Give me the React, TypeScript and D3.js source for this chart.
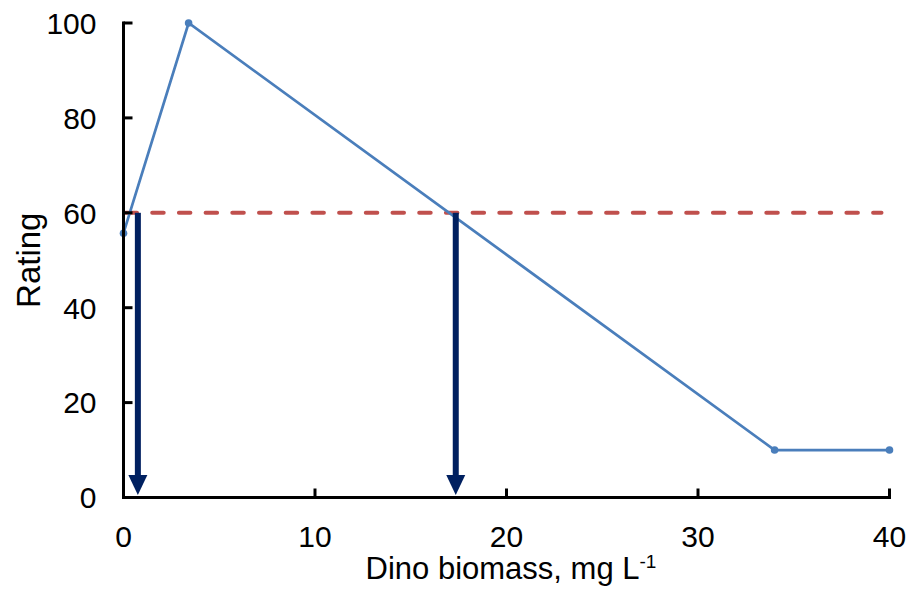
import React from 'react';
import * as d3 from 'd3';

// rating curve
const biomass = [0, 3.4, 34, 40];
const rating = [55.7, 100, 10, 10];
const threshold = 60;
// arrows dropped from the threshold to the x axis
const arrowX = [0.75, 17.35];
const xTicks = [0, 10, 20, 30, 40];
const yTicks = [0, 20, 40, 60, 80, 100];

const W = 909;
const H = 590;
const font = 'Arial, "Liberation Sans", sans-serif';

export default function App() {
    const x = d3.scaleLinear().domain([0, 40]).range([123.5, 889.5]);
    const y = d3.scaleLinear().domain([0, 100]).range([497.5, 23]);

    const pts = biomass.map((b, i) => [b, rating[i]] as [number, number]);
    const line = d3.line<[number, number]>()
        .x(d => x(d[0]))
        .y(d => y(d[1]));

    const headW = 19;
    const headH = 20;

    return (
        <svg width={W} height={H} style={{ position: 'absolute', left: 0, top: 0 }}>
            <rect width={W} height={H} fill="#fff" />

            {/* threshold */}
            <line
                x1={x(0) + 2} x2={x(40) - 8}
                y1={y(threshold)} y2={y(threshold)}
                stroke="#C0504D" strokeWidth={4}
                strokeDasharray="11.5 15.2" strokeLinecap="round"
            />

            {/* series */}
            <path d={line(pts) || ''} fill="none" stroke="#4A7EBB" strokeWidth={2.7} />
            {pts.map((d, i) => (
                <circle key={i} cx={x(d[0])} cy={y(d[1])} r={3.8} fill="#4A7EBB" />
            ))}

            {/* arrows */}
            {arrowX.map((a, i) => {
                const cx = x(a);
                const tip = y(0) - 2.5;
                return (
                    <g key={i} fill="#002060">
                        <rect x={cx - 3} y={y(threshold)} width={6} height={tip - headH - y(threshold) + 1} />
                        <path d={`M${cx - headW / 2},${tip - headH}L${cx + headW / 2},${tip - headH}L${cx},${tip}Z`} />
                    </g>
                );
            })}

            {/* axes */}
            <g stroke="#000" strokeWidth={3} fill="none">
                <line x1={x(0)} x2={x(0)} y1={y(100) - 1.5} y2={y(0) + 1.5} />
                <line x1={x(0) - 1.5} x2={x(40) + 1.5} y1={y(0)} y2={y(0)} />
                {yTicks.map(t => (
                    <line key={'y' + t} x1={x(0)} x2={x(0) + 9} y1={y(t)} y2={y(t)} />
                ))}
                {xTicks.map(t => (
                    <line key={'x' + t} x1={x(t)} x2={x(t)} y1={y(0)} y2={y(0) - 9} />
                ))}
            </g>

            <g fontFamily={font} fontSize={30} fill="#000">
                {yTicks.map(t => (
                    <text key={t} x={x(0) - 27} y={y(t)} dy="0.36em" textAnchor="end">{t}</text>
                ))}
                {xTicks.map(t => (
                    <text key={t} x={x(t)} y={546.5} textAnchor="middle">{t}</text>
                ))}
                <text x={511} y={579} textAnchor="middle" fontSize={31}>
                    Dino biomass, mg L<tspan fontSize={19} dy={-11}>-1</tspan>
                </text>
                <text transform={`translate(40,${(y(0) + y(100)) / 2}) rotate(-90)`} textAnchor="middle" fontSize={33}>Rating</text>
            </g>
        </svg>
    );
}
